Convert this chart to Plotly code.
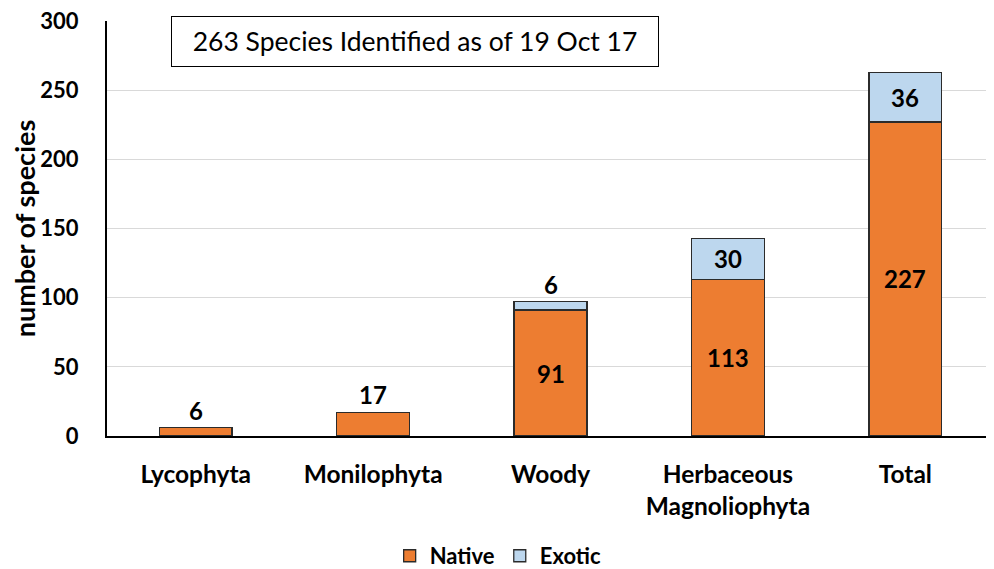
import plotly.graph_objects as go

categories = ["Lycophyta", "Monilophyta", "Woody", "Herbaceous<br>Magnoliophyta", "Total"]
native = [6, 17, 91, 113, 227]
exotic = [0, 0, 6, 30, 36]
title_text = "263 Species Identified as of 19 Oct 17"

FONT = "Lato, 'Open Sans', sans-serif"
ORANGE = "#ED7D31"
BLUE = "#BDD7EE"
EDGE = "#2b2b2b"

fig = go.Figure()
fig.add_trace(go.Bar(x=categories, y=native, name="<b>Native</b>",
                     marker=dict(color=ORANGE, line=dict(color=EDGE, width=1.3)),
                     width=0.41))
fig.add_trace(go.Bar(x=categories, y=exotic, name="<b>Exotic</b>",
                     marker=dict(color=BLUE, line=dict(color=EDGE, width=1.3)),
                     width=0.41))

anns = []
for c, n, e in zip(categories, native, exotic):
    if n >= 50:
        anns.append(dict(x=c, y=n / 2, text=f"<b>{n}</b>", showarrow=False, yanchor="middle"))
    else:
        anns.append(dict(x=c, y=n, text=f"<b>{n}</b>", showarrow=False, yanchor="bottom", yshift=1))
    if e > 0:
        if e >= 15:
            anns.append(dict(x=c, y=n + e / 2, text=f"<b>{e}</b>", showarrow=False, yanchor="middle"))
        else:
            anns.append(dict(x=c, y=n + e, text=f"<b>{e}</b>", showarrow=False, yanchor="bottom", yshift=1))
for a in anns:
    a["font"] = dict(family=FONT, size=24, color="black")

anns.append(dict(x=(171 - 107) / 887, y=1.012, xref="paper", yref="paper", xanchor="left", yanchor="top",
                 text=title_text, showarrow=False, font=dict(family=FONT, size=26.5, color="black"),
                 bordercolor="black", borderwidth=1, borderpad=9, bgcolor="white",
                 width=468, height=31, valign="bottom"))

# page has an 8px body margin, so the figure is drawn 8px smaller and shifted accordingly
fig.update_layout(
    barmode="stack",
    width=986, height=561,
    margin=dict(l=99, r=0, t=13, b=133, autoexpand=False),
    plot_bgcolor="white", paper_bgcolor="white",
    font=dict(family=FONT, color="black"),
    annotations=anns,
    showlegend=True,
    legend=dict(orientation="h", x=0.441, xanchor="center", y=-0.289, yanchor="middle",
                font=dict(family=FONT, size=22, color="black"), traceorder="normal",
                itemwidth=30),
)
fig.update_xaxes(showline=True, linecolor="black", linewidth=2, automargin=False,
                 ticks="outside", ticklen=16, tickcolor="rgba(0,0,0,0)",
                 tickfont=dict(family=FONT, size=24.5, color="black"),
                 tickprefix="<b>", ticksuffix="</b>")
fig.update_yaxes(range=[0, 300], dtick=50, ticklabeloverflow="allow",
                 showline=True, linecolor="black", linewidth=2,
                 showgrid=True, gridcolor="#d9d9d9", gridwidth=1, zeroline=False, automargin=False,
                 ticks="outside", ticklen=22, tickcolor="rgba(0,0,0,0)",
                 tickfont=dict(family=FONT, size=22, color="black"),
                 tickprefix="<b>", ticksuffix="</b>",
                 title=dict(text="<b>number of species</b>", font=dict(family=FONT, size=27, color="black"),
                            standoff=8))

fig.write_html("out.html")
